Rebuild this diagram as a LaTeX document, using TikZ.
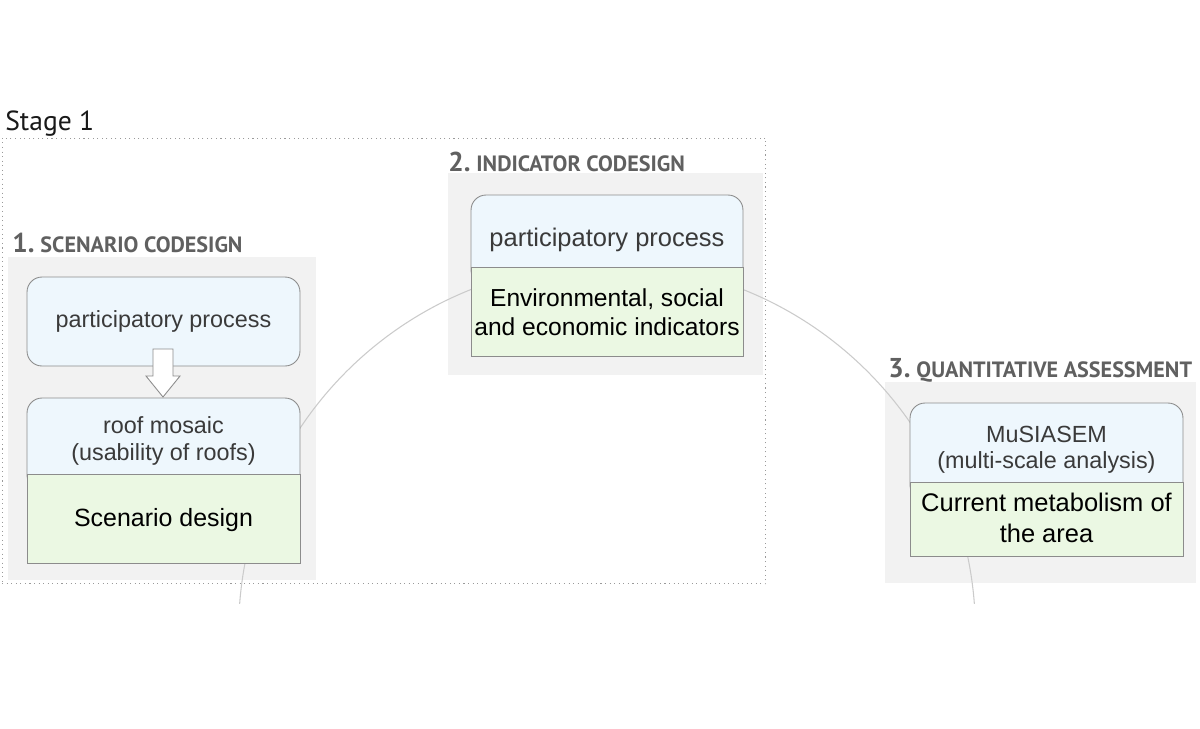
\documentclass[tikz,border=0pt]{standalone}
\usepackage{fontspec}
\setmainfont{Liberation Sans}
\newfontfamily\hfont{PT Sans}
\definecolor{panel}{HTML}{F2F2F2}
\definecolor{bluefill}{HTML}{EEF7FD}
\definecolor{greenfill}{HTML}{EBF8E3}
\definecolor{bordc}{HTML}{8C8C8C}
\definecolor{connc}{HTML}{CBCBCB}
\definecolor{headc}{HTML}{606060}
\definecolor{lighttext}{HTML}{3A3A3A}
\definecolor{framec}{HTML}{9A9A9A}
\tikzset{
  panelbox/.style={fill=panel, draw=none, inner sep=0pt},
  bluebox/.style={fill=bluefill, draw=bordc, line width=0.5pt, rounded corners=0.3cm, inner sep=0pt},
  greenbox/.style={fill=greenfill, draw=bordc, line width=0.5pt, inner sep=0pt},
  bluetxt/.style={text=lighttext, align=center, font=\fontsize{13.3}{15}\selectfont, inner sep=0pt},
  greentxt/.style={text=black, align=center, font=\fontsize{14.2}{16.5}\selectfont, inner sep=0pt},
  headtxt/.style={text=headc, anchor=base west, inner sep=0pt, font=\hfont\bfseries},
  conn/.style={draw=connc, line width=0.6pt},
}
\begin{document}
\begin{tikzpicture}[x=0.02cm,y=-0.02cm]
\useasboundingbox[fill=white] (0,0) rectangle (1200,728);

% stage label
\node[anchor=base west, inner sep=0pt, font=\hfont\fontsize{15.7}{18}\selectfont, text=black!90] (stage) at (5,130) {Stage 1};

% panels
\node[panelbox, minimum width=6.16cm, minimum height=6.46cm] (p1) at (162,418.5) {};
\node[panelbox, minimum width=6.30cm, minimum height=4.04cm] (p2) at (605.5,274) {};
\node[panelbox, minimum width=6.22cm, minimum height=4.02cm] (p3) at (1040.5,482.5) {};

% cycle connector (big circle, behind the boxes)
\coordinate (ctr) at (607,632);
\begin{scope}
  \clip (0,0) rectangle (1200,603);
  \draw[conn] (ctr) circle[radius=7.37cm];
\end{scope}

% dotted frame
\node[draw=framec, dotted, line width=0.6pt, minimum width=15.28cm, minimum height=8.92cm, inner sep=0pt] (frame) at (384,361) {};

% headings
\node[headtxt] (h1) at (12,252) {{\fontsize{15.5}{16}\selectfont 1.} {\fontsize{12.6}{14}\selectfont SCENARIO CODESIGN}};
\node[headtxt] (h2) at (448,171) {{\fontsize{15.5}{16}\selectfont 2.} {\fontsize{12.6}{14}\selectfont INDICATOR CODESIGN}};
\node[headtxt] (h3) at (888,377) {{\fontsize{15.5}{16}\selectfont 3.} {\fontsize{12.6}{14}\selectfont QUANTITATIVE ASSESSMENT}};

% box A
\node[bluebox, minimum width=5.46cm, minimum height=1.78cm] (A) at (163.5,321.5) {};
\node[bluetxt] (Atxt) at (163.5,321) {participatory process};

% box B
\node[bluebox, minimum width=5.46cm, minimum height=1.84cm] (Bt) at (163.5,444) {};
\node[greenbox, minimum width=5.46cm, minimum height=1.78cm] (Bb) at (163.5,518.5) {};
\node[bluetxt] (Bttxt) at (163.5,441) {roof mosaic\\(usability of roofs)};
\node[greentxt] (Bbtxt) at (163.5,520) {Scenario design};

% hollow arrow A -> B
\coordinate (arrtip) at (163,397);
\draw[bordc, fill=white, line width=0.5pt, line join=miter]
  (153,349) -- (173,349) -- (173,376) -- (180,376) -- (arrtip) -- (146,376) -- (153,376) -- cycle;

% box C
\node[bluebox, minimum width=5.44cm, minimum height=1.8cm] (Ct) at (607,240) {};
\node[greenbox, minimum width=5.44cm, minimum height=1.78cm] (Cb) at (607,311.5) {};
\node[bluetxt, font=\fontsize{14.5}{16}\selectfont] (Cttxt) at (607,240) {participatory process};
\node[greentxt, font=\fontsize{14}{16.5}\selectfont] (Cbtxt) at (607,312) {Environmental, social\\and economic indicators};

% box D
\node[bluebox, minimum width=5.46cm, minimum height=1.94cm] (Dt) at (1046.5,451.5) {};
\node[greenbox, minimum width=5.46cm, minimum height=1.48cm] (Db) at (1046.5,519) {};
\node[bluetxt] (Dttxt) at (1046.5,450) {MuSIASEM\\(multi-scale analysis)};
\node[greentxt, font=\fontsize{14.5}{17.5}\selectfont] (Dbtxt) at (1046.5,518) {Current metabolism of\\the area};
\end{tikzpicture}
\end{document}
